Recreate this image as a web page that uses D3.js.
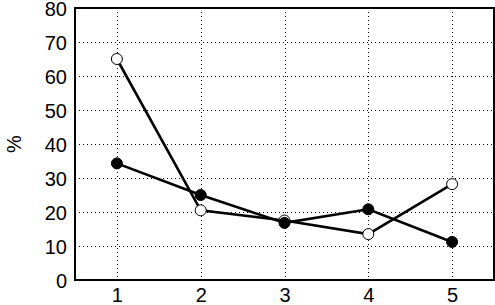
<!DOCTYPE html>
<html>
<head>
<meta charset="utf-8">
<script src="https://cdn.jsdelivr.net/npm/d3@7"></script>
<style>
  body { margin: 0; background: #fff; }
  text { font-family: "Liberation Sans", Arial, sans-serif; }
</style>
</head>
<body>
<script>
const svgWidth = 495
const svgHeight = 305

const margin = { top: 8, right: 1, bottom: 25, left: 75 }
const chartWidth = svgWidth - margin.left - margin.right
const chartHeight = svgHeight - margin.top - margin.bottom

// data
const categories = [1, 2, 3, 4, 5]
const openSeries = [65, 20.5, 17.5, 13.5, 28.2]
const filledSeries = [34.3, 25, 16.8, 20.8, 11.2]
const yTicks = [0, 10, 20, 30, 40, 50, 60, 70, 80]

const svg = d3.select("body").append("svg")
  .attr("width", svgWidth)
  .attr("height", svgHeight)

const chartG = svg.append("g")
  .attr("transform", `translate(${margin.left}, ${margin.top})`)

const x = d3.scaleLinear().domain([0.5, 5.5]).range([0, chartWidth])
const y = d3.scaleLinear().domain([0, 80]).range([chartHeight, 0])

// dotted grid
chartG.append("g")
  .selectAll("line")
  .data(yTicks.slice(1, -1))
  .enter().append("line")
  .attr("x1", 0).attr("x2", chartWidth)
  .attr("y1", d => Math.round(y(d)) + 0.5).attr("y2", d => Math.round(y(d)) + 0.5)
  .attr("stroke", "#000").attr("stroke-dasharray", "1,3")

chartG.append("g")
  .selectAll("line")
  .data(categories)
  .enter().append("line")
  .attr("x1", d => Math.round(x(d)) + 0.5).attr("x2", d => Math.round(x(d)) + 0.5)
  .attr("y1", 0).attr("y2", chartHeight)
  .attr("stroke", "#000").attr("stroke-dasharray", "1,3")

// axes
const yAxis = d3.axisLeft(y).tickValues(yTicks).tickFormat(d3.format("d")).tickSize(0).tickPadding(8)
const xAxis = d3.axisBottom(x).tickValues(categories).tickFormat(d3.format("d")).tickSize(0).tickPadding(8)

const yG = chartG.append("g").call(yAxis)
const xG = chartG.append("g")
  .attr("transform", `translate(0, ${chartHeight})`)
  .call(xAxis)

for (const g of [yG, xG]) {
  g.select(".domain").remove()
  g.selectAll("text").attr("font-size", 20).attr("fill", "#000")
}
yG.selectAll("text").attr("dy", "0.36em")

// box
chartG.append("rect")
  .attr("x", 0).attr("y", 0)
  .attr("width", chartWidth).attr("height", chartHeight)
  .attr("fill", "none").attr("stroke", "#000").attr("stroke-width", 2)

svg.append("text")
  .attr("transform", `translate(21, ${margin.top + chartHeight / 2}) rotate(-90)`)
  .attr("text-anchor", "middle")
  .attr("font-size", 20)
  .text("%")

const line = d3.line()
  .x((d, i) => x(categories[i]))
  .y(d => y(d))

function drawSeries(values, fill) {
  chartG.append("path")
    .attr("d", line(values))
    .attr("fill", "none")
    .attr("stroke", "#000")
    .attr("stroke-width", 2.6)

  chartG.append("g")
    .selectAll("circle")
    .data(values)
    .enter().append("circle")
    .attr("cx", (d, i) => x(categories[i]))
    .attr("cy", d => y(d))
    .attr("r", 5.5)
    .attr("fill", fill)
    .attr("stroke", "#000")
    .attr("stroke-width", 1)
}

drawSeries(openSeries, "#fff")
drawSeries(filledSeries, "#000")
</script>
</body>
</html>
